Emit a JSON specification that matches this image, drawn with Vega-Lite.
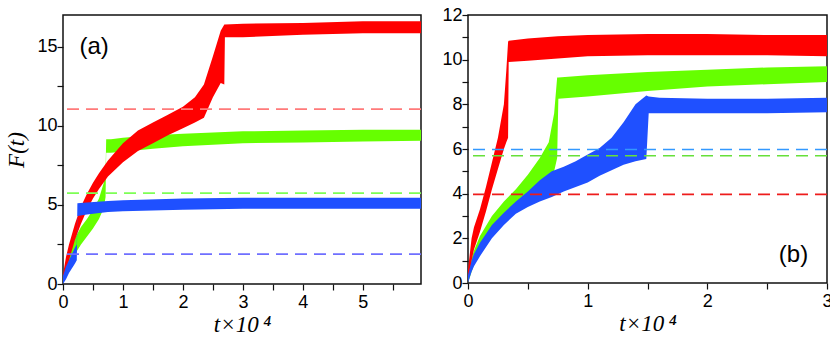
{
  "$schema": "https://vega.github.io/schema/vega-lite/v6.json",
  "background": "white",
  "padding": 5,
  "datasets": {
    "a": [
      {"s":"green","t":0,"lo":0,"hi":0.4},{"s":"green","t":0.05,"lo":0.6,"hi":1.3},{"s":"green","t":0.1,"lo":1.1,"hi":1.9},{"s":"green","t":0.2,"lo":1.9,"hi":2.9},{"s":"green","t":0.3,"lo":2.5,"hi":3.6},{"s":"green","t":0.4,"lo":3.0,"hi":4.1},{"s":"green","t":0.5,"lo":3.5,"hi":4.7},{"s":"green","t":0.6,"lo":4.1,"hi":5.4},{"s":"green","t":0.68,"lo":4.8,"hi":6.4},{"s":"green","t":0.71,"lo":5.5,"hi":7.0},{"s":"green","t":0.72,"lo":8.3,"hi":9.15},{"s":"green","t":0.8,"lo":8.3,"hi":9.15},{"s":"green","t":1.0,"lo":8.35,"hi":9.25},{"s":"green","t":1.5,"lo":8.55,"hi":9.4},{"s":"green","t":2.0,"lo":8.7,"hi":9.5},{"s":"green","t":3.0,"lo":8.9,"hi":9.65},{"s":"green","t":4.0,"lo":8.95,"hi":9.7},{"s":"green","t":5.0,"lo":9.0,"hi":9.75},{"s":"green","t":5.97,"lo":9.05,"hi":9.75},
      {"s":"red","t":0,"lo":0,"hi":0.6},{"s":"red","t":0.05,"lo":0.8,"hi":1.7},{"s":"red","t":0.1,"lo":1.5,"hi":2.5},{"s":"red","t":0.2,"lo":2.8,"hi":3.8},{"s":"red","t":0.3,"lo":3.8,"hi":4.9},{"s":"red","t":0.4,"lo":4.7,"hi":5.7},{"s":"red","t":0.5,"lo":5.4,"hi":6.4},{"s":"red","t":0.6,"lo":6.0,"hi":7.0},{"s":"red","t":0.75,"lo":6.8,"hi":7.8},{"s":"red","t":1.0,"lo":7.7,"hi":8.9},{"s":"red","t":1.25,"lo":8.4,"hi":9.7},{"s":"red","t":1.5,"lo":8.9,"hi":10.2},{"s":"red","t":1.75,"lo":9.4,"hi":10.7},{"s":"red","t":2.0,"lo":9.85,"hi":11.2},{"s":"red","t":2.2,"lo":10.2,"hi":11.8},{"s":"red","t":2.35,"lo":10.5,"hi":12.6},{"s":"red","t":2.5,"lo":11.8,"hi":14.4},{"s":"red","t":2.63,"lo":12.7,"hi":16.0},{"s":"red","t":2.69,"lo":12.6,"hi":16.4},{"s":"red","t":2.7,"lo":15.6,"hi":16.4},{"s":"red","t":3.0,"lo":15.6,"hi":16.45},{"s":"red","t":4.0,"lo":15.75,"hi":16.5},{"s":"red","t":5.0,"lo":15.85,"hi":16.6},{"s":"red","t":5.97,"lo":15.85,"hi":16.6},
      {"s":"blue","t":0,"lo":0,"hi":0.5},{"s":"blue","t":0.05,"lo":0.3,"hi":1.1},{"s":"blue","t":0.1,"lo":0.7,"hi":1.5},{"s":"blue","t":0.15,"lo":1.0,"hi":1.9},{"s":"blue","t":0.2,"lo":1.3,"hi":2.3},{"s":"blue","t":0.23,"lo":1.5,"hi":2.5},{"s":"blue","t":0.24,"lo":4.3,"hi":5.1},{"s":"blue","t":0.4,"lo":4.4,"hi":5.15},{"s":"blue","t":0.75,"lo":4.55,"hi":5.25},{"s":"blue","t":1.0,"lo":4.6,"hi":5.3},{"s":"blue","t":2.0,"lo":4.7,"hi":5.4},{"s":"blue","t":3.0,"lo":4.75,"hi":5.45},{"s":"blue","t":4.0,"lo":4.75,"hi":5.45},{"s":"blue","t":5.0,"lo":4.75,"hi":5.45},{"s":"blue","t":5.97,"lo":4.75,"hi":5.45}
    ],
    "b": [
      {"s":"green","t":0,"lo":0,"hi":0.4},{"s":"green","t":0.03,"lo":0.5,"hi":1.1},{"s":"green","t":0.05,"lo":0.8,"hi":1.45},{"s":"green","t":0.1,"lo":1.4,"hi":2.1},{"s":"green","t":0.2,"lo":2.3,"hi":3.0},{"s":"green","t":0.3,"lo":3.0,"hi":3.65},{"s":"green","t":0.4,"lo":3.45,"hi":4.2},{"s":"green","t":0.5,"lo":3.9,"hi":4.85},{"s":"green","t":0.6,"lo":4.3,"hi":5.6},{"s":"green","t":0.675,"lo":4.6,"hi":6.3},{"s":"green","t":0.72,"lo":5.0,"hi":7.6},{"s":"green","t":0.745,"lo":5.6,"hi":9.2},{"s":"green","t":0.755,"lo":8.25,"hi":9.2},{"s":"green","t":1.0,"lo":8.35,"hi":9.3},{"s":"green","t":1.5,"lo":8.6,"hi":9.45},{"s":"green","t":2.0,"lo":8.8,"hi":9.55},{"s":"green","t":2.5,"lo":8.9,"hi":9.65},{"s":"green","t":3.0,"lo":9.0,"hi":9.7},
      {"s":"red","t":0,"lo":0,"hi":0.6},{"s":"red","t":0.03,"lo":1.0,"hi":2.0},{"s":"red","t":0.05,"lo":1.5,"hi":2.5},{"s":"red","t":0.1,"lo":2.3,"hi":3.3},{"s":"red","t":0.15,"lo":3.2,"hi":4.3},{"s":"red","t":0.2,"lo":4.2,"hi":5.4},{"s":"red","t":0.25,"lo":5.1,"hi":6.5},{"s":"red","t":0.3,"lo":6.0,"hi":8.0},{"s":"red","t":0.32,"lo":6.3,"hi":9.5},{"s":"red","t":0.335,"lo":6.5,"hi":10.8},{"s":"red","t":0.34,"lo":9.9,"hi":10.85},{"s":"red","t":0.5,"lo":9.95,"hi":10.95},{"s":"red","t":0.75,"lo":10.05,"hi":11.05},{"s":"red","t":1.0,"lo":10.15,"hi":11.1},{"s":"red","t":1.5,"lo":10.2,"hi":11.15},{"s":"red","t":2.0,"lo":10.2,"hi":11.15},{"s":"red","t":2.5,"lo":10.2,"hi":11.1},{"s":"red","t":3.0,"lo":10.15,"hi":11.1},
      {"s":"blue","t":0,"lo":0,"hi":0.35},{"s":"blue","t":0.03,"lo":0.5,"hi":1.0},{"s":"blue","t":0.05,"lo":0.75,"hi":1.3},{"s":"blue","t":0.1,"lo":1.2,"hi":1.8},{"s":"blue","t":0.2,"lo":2.0,"hi":2.6},{"s":"blue","t":0.3,"lo":2.6,"hi":3.15},{"s":"blue","t":0.4,"lo":3.1,"hi":3.65},{"s":"blue","t":0.5,"lo":3.4,"hi":4.1},{"s":"blue","t":0.6,"lo":3.65,"hi":4.6},{"s":"blue","t":0.7,"lo":3.85,"hi":5.0},{"s":"blue","t":0.8,"lo":4.1,"hi":5.2},{"s":"blue","t":0.9,"lo":4.3,"hi":5.45},{"s":"blue","t":1.0,"lo":4.5,"hi":5.75},{"s":"blue","t":1.1,"lo":4.8,"hi":6.05},{"s":"blue","t":1.2,"lo":5.05,"hi":6.5},{"s":"blue","t":1.3,"lo":5.3,"hi":7.2},{"s":"blue","t":1.4,"lo":5.45,"hi":8.0},{"s":"blue","t":1.49,"lo":5.55,"hi":8.4},{"s":"blue","t":1.51,"lo":7.6,"hi":8.35},{"s":"blue","t":1.6,"lo":7.6,"hi":8.3},{"s":"blue","t":2.0,"lo":7.6,"hi":8.25},{"s":"blue","t":2.5,"lo":7.6,"hi":8.25},{"s":"blue","t":3.0,"lo":7.65,"hi":8.3}
    ],
    "ra": [{"s":"red","v":11.05},{"s":"green","v":5.74},{"s":"blue","v":1.89}],
    "rb": [{"s":"blue","v":5.98},{"s":"green","v":5.7},{"s":"red","v":3.97}]
  },
  "hconcat": [
    {
      "width": 358,
      "height": 269,
      "layer": [
        {
          "data": {"name": "a"},
          "transform": [{"filter": "datum.s === 'green'"}],
          "mark": {"type": "area", "color": "#66ff00"},
          "encoding": {
            "x": {"field": "t", "type": "quantitative", "scale": {"domain": [0, 5.97], "nice": false, "zero": false},
                  "axis": {"orient": "bottom", "values": [0,0.5,1,1.5,2,2.5,3,3.5,4,4.5,5,5.5], "labelExpr": "datum.value % 1 === 0 ? format(datum.value, 'd') : ''", "labelPadding": 3, "titlePadding": 2, "title": "t×10\u2009⁴"}},
            "y": {"field": "lo", "type": "quantitative", "scale": {"domain": [0, 17], "nice": false, "zero": false},
                  "axis": {"orient": "left", "values": [0,2.5,5,7.5,10,12.5,15], "labelExpr": "datum.value % 5 === 0 ? format(datum.value, 'd') : ''", "labelPadding": 0, "titlePadding": 8, "title": "F(t)"}},
            "y2": {"field": "hi"}
          }
        },
        {
          "data": {"name": "a"},
          "transform": [{"filter": "datum.s === 'red'"}],
          "mark": {"type": "area", "color": "#ff0000"},
          "encoding": {
            "x": {"field": "t", "type": "quantitative", "scale": {"domain": [0, 5.97], "nice": false, "zero": false}, "axis": null},
            "y": {"field": "lo", "type": "quantitative", "scale": {"domain": [0, 17], "nice": false, "zero": false}, "axis": null},
            "y2": {"field": "hi"}
          }
        },
        {
          "data": {"name": "a"},
          "transform": [{"filter": "datum.s === 'blue'"}],
          "mark": {"type": "area", "color": "#1f50ff"},
          "encoding": {
            "x": {"field": "t", "type": "quantitative", "scale": {"domain": [0, 5.97], "nice": false, "zero": false}, "axis": null},
            "y": {"field": "lo", "type": "quantitative", "scale": {"domain": [0, 17], "nice": false, "zero": false}, "axis": null},
            "y2": {"field": "hi"}
          }
        },
        {
          "data": {"name": "ra"},
          "mark": {"type": "rule", "strokeDash": [12, 7], "strokeWidth": 1.6},
          "encoding": {
            "y": {"field": "v", "type": "quantitative", "scale": {"domain": [0, 17], "nice": false, "zero": false}, "axis": null},
            "stroke": {"field": "s", "type": "nominal", "scale": {"domain": ["red","green","blue"], "range": ["#ff7a7a","#7dff55","#6f6fff"]}, "legend": null}
          }
        },
        {
          "data": {"values": [{"label": "(a)"}]},
          "mark": {"type": "text", "font": "Liberation Sans", "fontSize": 24, "align": "center", "baseline": "middle", "color": "#000"},
          "encoding": {
            "text": {"field": "label"},
            "x": {"datum": 0.52, "type": "quantitative", "scale": {"domain": [0, 5.97], "nice": false, "zero": false}, "axis": null},
            "y": {"datum": 15, "type": "quantitative", "scale": {"domain": [0, 17], "nice": false, "zero": false}, "axis": null}
          }
        }
      ],
      "resolve": {"axis": {"x": "independent", "y": "independent"}}
    },
    {
      "width": 359,
      "height": 268,
      "layer": [
        {
          "data": {"name": "b"},
          "transform": [{"filter": "datum.s === 'green'"}],
          "mark": {"type": "area", "color": "#66ff00"},
          "encoding": {
            "x": {"field": "t", "type": "quantitative", "scale": {"domain": [0, 3], "nice": false, "zero": false},
                  "axis": {"orient": "bottom", "values": [0,0.5,1,1.5,2,2.5,3], "labelExpr": "datum.value % 1 === 0 ? format(datum.value, 'd') : ''", "labelPadding": 3, "titlePadding": 2, "title": "t×10\u2009⁴"}},
            "y": {"field": "lo", "type": "quantitative", "scale": {"domain": [0, 12], "nice": false, "zero": false},
                  "axis": {"orient": "left", "values": [0,1,2,3,4,5,6,7,8,9,10,11,12], "labelExpr": "datum.value % 2 === 0 ? format(datum.value, 'd') : ''", "labelPadding": 0, "title": null}},
            "y2": {"field": "hi"}
          }
        },
        {
          "data": {"name": "b"},
          "transform": [{"filter": "datum.s === 'red'"}],
          "mark": {"type": "area", "color": "#ff0000"},
          "encoding": {
            "x": {"field": "t", "type": "quantitative", "scale": {"domain": [0, 3], "nice": false, "zero": false}, "axis": null},
            "y": {"field": "lo", "type": "quantitative", "scale": {"domain": [0, 12], "nice": false, "zero": false}, "axis": null},
            "y2": {"field": "hi"}
          }
        },
        {
          "data": {"name": "b"},
          "transform": [{"filter": "datum.s === 'blue'"}],
          "mark": {"type": "area", "color": "#1f50ff"},
          "encoding": {
            "x": {"field": "t", "type": "quantitative", "scale": {"domain": [0, 3], "nice": false, "zero": false}, "axis": null},
            "y": {"field": "lo", "type": "quantitative", "scale": {"domain": [0, 12], "nice": false, "zero": false}, "axis": null},
            "y2": {"field": "hi"}
          }
        },
        {
          "data": {"name": "rb"},
          "mark": {"type": "rule", "strokeDash": [12, 7], "strokeWidth": 1.6},
          "encoding": {
            "y": {"field": "v", "type": "quantitative", "scale": {"domain": [0, 12], "nice": false, "zero": false}, "axis": null},
            "stroke": {"field": "s", "type": "nominal", "scale": {"domain": ["blue","green","red"], "range": ["#3399ff","#66e03a","#ee1c1c"]}, "legend": null}
          }
        },
        {
          "data": {"values": [{"label": "(b)"}]},
          "mark": {"type": "text", "font": "Liberation Sans", "fontSize": 24, "align": "center", "baseline": "middle", "color": "#000"},
          "encoding": {
            "text": {"field": "label"},
            "x": {"datum": 2.72, "type": "quantitative", "scale": {"domain": [0, 3], "nice": false, "zero": false}, "axis": null},
            "y": {"datum": 1.24, "type": "quantitative", "scale": {"domain": [0, 12], "nice": false, "zero": false}, "axis": null}
          }
        }
      ],
      "resolve": {"axis": {"x": "independent", "y": "independent"}}
    }
  ],
  "spacing": 18,
  "resolve": {"scale": {"stroke": "independent"}},
  "config": {
    "view": {"stroke": "#111", "strokeWidth": 1.5},
    "axis": {
      "domain": false,
      "grid": false,
      "ticks": true,
      "tickSize": 6,
      "tickColor": "#111",
      "tickWidth": 1.2,
      "labelFont": "Liberation Sans",
      "labelFontSize": 18,
      "labelColor": "#000",
      "labelFlush": false,
      "labelOverlap": false,
      "titleFont": "Liberation Serif",
      "titleFontStyle": "italic",
      "titleFontWeight": "normal",
      "titleFontSize": 23,
      "titleColor": "#000"
    }
  }
}
